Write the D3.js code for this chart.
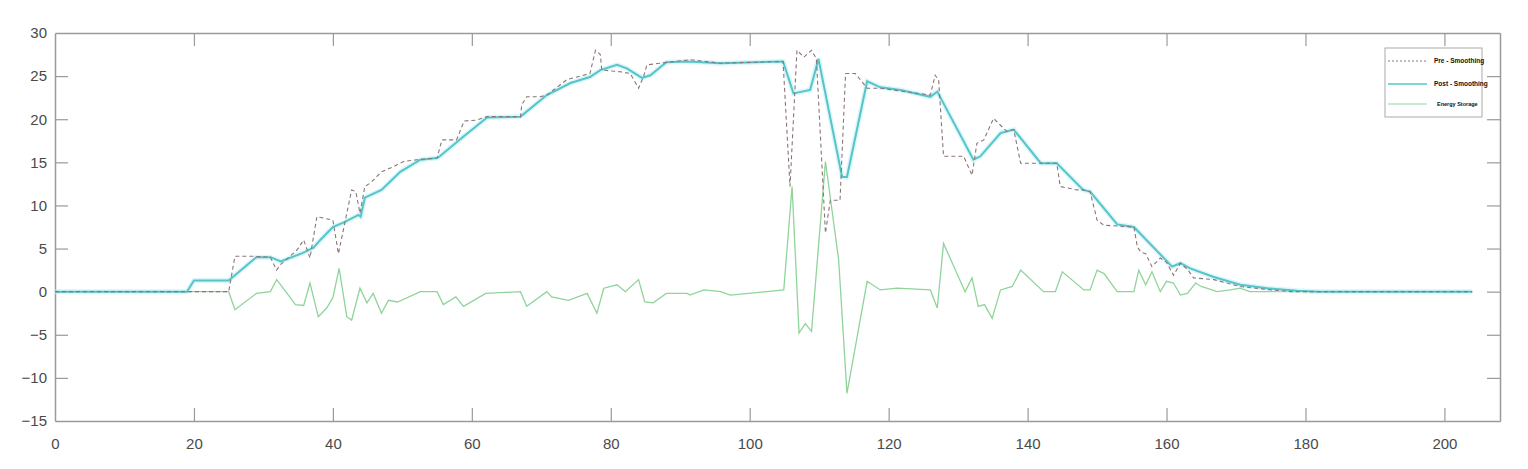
<!DOCTYPE html>
<html>
<head>
<meta charset="utf-8">
<script src="https://cdn.jsdelivr.net/npm/d3@7/dist/d3.min.js"></script>
<style>
  html, body { margin: 0; padding: 0; background: #fff; }
  svg { display: block; }
  text { font-family: "Liberation Sans", Arial, sans-serif; }
</style>
</head>
<body>
<svg id="chart" width="1528" height="469"></svg>
<script>
// ---- data ----
const xTicks = [0, 20, 40, 60, 80, 100, 120, 140, 160, 180, 200];
const yTicks = [-15, -10, -5, 0, 5, 10, 15, 20, 25, 30];
const legendLabels = ["Pre - Smoothing", "Post - Smoothing", "Energy Storage"];

const xPre = [0,25,25.9,28.6,31,31.9,32.4,34.8,35.8,36.7,37.7,40,40.8,42.7,43.3,43.9,44.6,45.4,47,48.7,50.2,52.1,55,55.7,57.8,58.9,60.7,62.2,67,67.2,67.9,69.8,70.8,73.7,77,77.8,78.5,78.7,81.4,82.8,84,84.7,85.2,87.1,91.4,95.8,104.8,105.8,106.8,107.8,108.9,109.6,110.9,111.6,113,113.8,115.2,116.9,118.8,126,126.7,127.2,127.9,130.8,132,132.7,133.7,135.1,136.1,137,138,139,141.8,144.2,144.7,147.1,148,149,150,151,155.3,155.8,156.3,157,157.9,159.1,160,161,162,163,163.9,166.8,168.7,170.6,174,178,204];
const yPre = [0,0,4.1,4.1,4.0,2.5,3.1,4.8,6.0,3.9,8.7,8.3,4.4,11.8,11.6,9.1,12.2,12.6,13.9,14.5,15.1,15.3,15.5,17.6,17.6,19.8,19.9,20.3,20.3,21.7,22.6,22.6,22.8,24.6,25.3,28.0,27.5,25.7,25.5,25.3,23.6,24.9,26.3,26.5,26.9,26.5,26.7,12.2,28.0,27.2,28.0,27.0,6.8,10.6,10.6,25.3,25.3,23.6,23.6,22.8,25.1,24.5,15.7,15.7,13.5,17.2,17.6,20.1,19.3,18.6,18.8,14.9,14.9,14.9,12.2,11.8,11.8,11.6,8.3,7.7,7.5,5.2,4.6,4.4,2.9,3.9,3.4,1.9,3.3,2.6,1.6,1.4,1.0,0.6,0.3,0,0];

const xPost = [0,19,20,25,29,31,32.5,35.7,37.2,38.2,40,41.5,43.7,44,44.6,47,49.7,52.6,55,55.4,58.5,62.2,67,70.8,74.2,77,78.5,80.9,82.3,84.5,85.7,88,91,95.8,104.8,106.3,108.7,109.9,113.3,114,116.9,118.8,121.7,126,127,132.2,133.2,136.1,138,141.9,144.2,148,149,152.9,155.3,160.8,162,163.4,166.8,170.6,174.5,178.8,182,204];
const yPost = [0,0,1.3,1.3,4.0,4.0,3.5,4.5,5.1,6.0,7.5,8.0,8.9,8.7,10.9,11.8,13.9,15.3,15.5,15.7,17.8,20.2,20.3,22.8,24.2,24.9,25.7,26.3,25.9,24.8,25.1,26.6,26.7,26.5,26.7,23.0,23.4,27.0,13.3,13.3,24.4,23.7,23.4,22.6,23.2,15.3,15.7,18.4,18.8,14.9,14.9,11.8,11.6,7.8,7.5,2.9,3.3,2.7,1.7,0.8,0.4,0.1,0,0];

const xEs = [0,25,25.9,29,31,31.9,33.6,34.6,35.8,36.7,37.9,39.1,40,40.9,42,42.7,43.9,44.9,45.8,47,48,49.3,52.6,55,55.9,57.7,58.8,62,67,67.9,70.8,71.5,73.9,76.6,78,79,80.9,82.1,84,84.9,86.1,88,91,91.4,93.4,95.8,97.2,104.9,106.1,107.1,108,108.9,110.9,112.8,114,116.9,118.8,121.2,126,127,127.9,131,132,132.9,133.8,134.9,136.1,137.8,139,142.3,144,145,148.1,149,150,151,152.9,155.3,156,157,157.9,159.1,160,161,162,163,164.2,165,167.3,169.2,170.6,172,204];
const yEs = [0,0,-2.1,-0.2,0,1.4,-0.4,-1.5,-1.6,1.0,-2.9,-1.9,-0.7,2.7,-2.9,-3.3,0.4,-1.3,-0.2,-2.5,-1.0,-1.2,0,0,-1.5,-0.6,-1.7,-0.2,0,-1.7,0,-0.6,-1.0,-0.2,-2.5,0.4,0.8,0,1.4,-1.2,-1.3,-0.2,-0.2,-0.4,0.2,0,-0.4,0.2,12.2,-4.8,-3.7,-4.6,15.1,3.7,-11.8,1.2,0.2,0.4,0.2,-1.9,5.6,0,1.6,-1.7,-1.5,-3.1,0.2,0.6,2.5,0,0,2.3,0.2,0.2,2.5,2.1,0,0,2.5,0.8,2.3,0,1.2,1.0,-0.4,-0.2,1.0,0.6,0,0.2,0.4,0,0];

// ---- layout ----
const svg = d3.select("#chart");
const L = 55, R = 1500, T = 33, B = 421;
const x = d3.scaleLinear().domain([0, 208]).range([L, R]);
const y = d3.scaleLinear().domain([-15, 30]).range([B, T]);

const axisColor = "#9a9a9a";
const textColor = "#4a4a4a";

svg.append("defs").append("clipPath").attr("id", "clip")
  .append("rect").attr("x", L).attr("y", T).attr("width", R - L).attr("height", B - T);

// axes (box with inward ticks)
const tickLen = 13;
const xb = svg.append("g").attr("transform", `translate(0,${B})`)
  .call(d3.axisBottom(x).tickValues(xTicks).tickSizeInner(-tickLen).tickSizeOuter(0).tickPadding(tickLen + 4));
const xt = svg.append("g").attr("transform", `translate(0,${T})`)
  .call(d3.axisTop(x).tickValues(xTicks).tickSizeInner(-tickLen).tickSizeOuter(0).tickFormat(""));
const yl = svg.append("g").attr("transform", `translate(${L},0)`)
  .call(d3.axisLeft(y).tickValues(yTicks).tickSizeInner(-tickLen).tickSizeOuter(0).tickPadding(8));
const yr = svg.append("g").attr("transform", `translate(${R},0)`)
  .call(d3.axisRight(y).tickValues(yTicks).tickSizeInner(-tickLen).tickSizeOuter(0).tickFormat(""));

[xb, xt, yl, yr].forEach(g => {
  g.selectAll(".domain").attr("stroke", axisColor).attr("stroke-width", 1.5);
  g.selectAll(".tick line").attr("stroke", axisColor).attr("stroke-width", 1.2);
  g.selectAll(".tick text").attr("fill", textColor).style("font-size", "15px");
});
xb.selectAll(".tick line").filter(d => d === 0).attr("opacity", 0);
xt.selectAll(".tick line").filter(d => d === 0).attr("opacity", 0);
yl.selectAll(".tick line").filter(d => d === -15 || d === 30).attr("opacity", 0);
yr.selectAll(".tick line").filter(d => d === -15 || d === 30).attr("opacity", 0);

// lines
const plot = svg.append("g").attr("clip-path", "url(#clip)");
const mk = (xs, ys) => xs.map((v, i) => [v, ys[i]]);
const line = d3.line().x(d => x(d[0])).y(d => y(d[1]));

const colPre = "#8a7678", colPost = "#55c4cc", colEs = "#8fd49a";

plot.append("path").datum(mk(xEs, yEs)).attr("d", line)
  .attr("fill", "none").attr("stroke", colEs).attr("stroke-width", 1.3);
plot.append("path").datum(mk(xPost, yPost)).attr("d", line)
  .attr("fill", "none").attr("stroke", "#c6f0f2").attr("stroke-width", 5).attr("opacity", 0.6);
plot.append("path").datum(mk(xPost, yPost)).attr("d", line)
  .attr("fill", "none").attr("stroke", colPost).attr("stroke-width", 2);
plot.append("path").datum(mk(xPre, yPre)).attr("d", line)
  .attr("fill", "none").attr("stroke", colPre).attr("stroke-width", 1.1)
  .attr("stroke-dasharray", "4,3");

// legend
const lg = svg.append("g");
lg.append("rect").attr("x", 1385).attr("y", 48).attr("width", 97).attr("height", 69)
  .attr("fill", "#fff").attr("stroke", "#aaa").attr("stroke-width", 1);
const rows = [61, 84, 104];
const lstyles = [
  { c: colPre, w: 1, dash: "2,2" },
  { c: colPost, w: 1.6, dash: null },
  { c: colEs, w: 1.2, dash: null }
];
legendLabels.forEach((t, i) => {
  const ln = lg.append("line").attr("x1", 1388).attr("x2", 1427)
    .attr("y1", rows[i]).attr("y2", rows[i])
    .attr("stroke", lstyles[i].c).attr("stroke-width", lstyles[i].w);
  if (lstyles[i].dash) ln.attr("stroke-dasharray", lstyles[i].dash);
  lg.append("text").attr("x", i === 2 ? 1437 : 1434).attr("y", rows[i] + 2)
    .attr("fill", "#111").style("font-size", i === 2 ? "5.5px" : "6.5px")
    .style("font-weight", "bold").text(t);
});
</script>
</body>
</html>
